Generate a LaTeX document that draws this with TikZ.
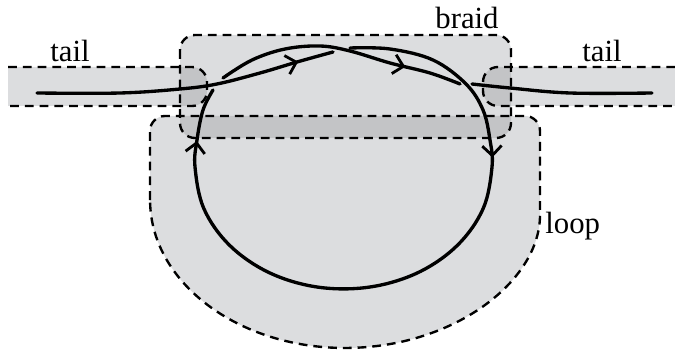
\documentclass[tikz,border=0pt]{standalone}
\usepackage{fontspec}
\setmainfont{Liberation Serif}
\usetikzlibrary{decorations.markings,arrows.meta}
\definecolor{light}{RGB}{220,221,223}
\definecolor{dark}{RGB}{195,196,198}
\tikzset{
  outline/.style={draw=black,line width=1.35pt,dash pattern=on 5pt off 3.4pt},
  strand/.style={draw=black,line width=1.9pt,line cap=round},
  midarrow/.style={postaction={decorate,decoration={markings,
     mark=at position #1 with {\arrow{Straight Barb[length=5.5pt,width=11pt,line width=1.6pt]}}}}},
  lbl/.style={font=\fontsize{17.5}{20}\selectfont,inner sep=0pt}
}
\begin{document}
\begin{tikzpicture}[x=0.02cm,y=-0.02cm]
\useasboundingbox (0,0) rectangle (675,351);
% regions
\def\lefttail{(8,67) -- (207,67) -- (207,106) -- (8,106)}
\def\righttail{(690,67) -- (483,67) -- (483,106) -- (690,106)}
\def\braid{(180,35) rectangle (511,138)}
\def\loopreg{(150,200) -- (150,116) -- (540,116) -- (540,200) [sharp corners] arc[start angle=0,end angle=-180,x radius=3.9cm,y radius=2.96cm] -- cycle}
\fill[light,rounded corners=0.3cm] \lefttail;
\fill[light,rounded corners=0.3cm] \righttail;
\fill[light,rounded corners=0.3cm] \braid;
\fill[light,rounded corners=0.3cm] \loopreg;
\begin{scope}
  \clip[rounded corners=0.3cm] \braid;
  \fill[dark,rounded corners=0.3cm] \lefttail;
  \fill[dark,rounded corners=0.3cm] \righttail;
  \fill[dark,rounded corners=0.3cm] \loopreg;
\end{scope}
\draw[outline,rounded corners=0.3cm] \lefttail;
\draw[outline,rounded corners=0.3cm] \righttail;
\draw[outline,rounded corners=0.3cm] \braid;
\draw[outline,rounded corners=0.3cm] \loopreg;
% strands
\draw[strand,midarrow=0.88] plot[smooth,tension=0.6] coordinates {(37,93) (120,93) (180,89) (217,84) (260,73) (297,62) (333,52)};
\draw[strand,midarrow=0.285,midarrow=0.925] plot[smooth,tension=0.6] coordinates {(350,48) (390,49) (433,60) (466,84) (483,110) (490,140) (492,167) (483.1,208.7) (457.3,245.4) (417.8,272.7) (369.3,287.1) (317.7,287.1) (269.3,272.7) (229.7,245.4) (203.9,208.7) (195,167) (197,140) (203,110) (213,90)};
\draw[strand,midarrow=0.77] plot[smooth,tension=0.6] coordinates {(223,78) (252,60) (285,49) (320,46) (350,51) (390,63) (430,73) (460,84)};
\draw[strand] plot[smooth,tension=0.6] coordinates {(472,84) (510,88) (570,93) (652,93)};
% labels
\node[lbl,anchor=base] (t1) at (70,62) {tail};
\node[lbl,anchor=base] (t2) at (602,62) {tail};
\node[lbl,anchor=base] (br) at (467,29) {braid};
\node[lbl,anchor=base west] (lp) at (545,233) {loop};
\end{tikzpicture}
\end{document}
